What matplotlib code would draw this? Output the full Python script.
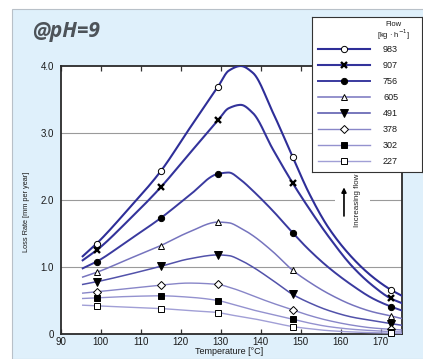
import numpy as np
import matplotlib
matplotlib.use("Agg")
import matplotlib.pyplot as plt
from matplotlib.patches import Rectangle

plt.rcParams['font.family'] = ['Liberation Sans', 'DejaVu Sans']

# flow rates, kg/h
flows = [983, 907, 756, 605, 491, 378, 302, 227]

# temperatures (degC) where each loss-rate curve is sampled
curve_t = [95.5, 99, 107, 115, 122, 129.3, 132, 135, 138, 143, 148, 152, 157, 163, 168, 172.5, 175.3]
# temperatures that carry a symbol
marker_t = [99, 115, 129.3, 148, 172.5]

# loss rate, mm per year
rate_983 = [1.16, 1.35, 1.87, 2.43, 3.05, 3.69, 3.93, 4.00, 3.90, 3.31, 2.64, 2.11, 1.58, 1.13, 0.85, 0.66, 0.57]
rate_907 = [1.10, 1.25, 1.70, 2.19, 2.68, 3.19, 3.37, 3.42, 3.30, 2.76, 2.25, 1.88, 1.45, 1.00, 0.72, 0.53, 0.46]
rate_756 = [0.98, 1.08, 1.40, 1.73, 2.06, 2.39, 2.41, 2.30, 2.14, 1.84, 1.51, 1.26, 0.99, 0.72, 0.53, 0.41, 0.35]
rate_605 = [0.85, 0.92, 1.12, 1.32, 1.52, 1.67, 1.66, 1.58, 1.47, 1.23, 0.95, 0.78, 0.60, 0.43, 0.33, 0.27, 0.23]
rate_491 = [0.74, 0.78, 0.89, 1.01, 1.12, 1.18, 1.17, 1.10, 1.00, 0.80, 0.59, 0.47, 0.35, 0.25, 0.20, 0.155, 0.13]
rate_378 = [0.61, 0.63, 0.68, 0.73, 0.76, 0.74, 0.70, 0.64, 0.57, 0.46, 0.36, 0.28, 0.20, 0.13, 0.09, 0.07, 0.06]
rate_302 = [0.53, 0.54, 0.56, 0.57, 0.55, 0.50, 0.46, 0.41, 0.36, 0.29, 0.22, 0.165, 0.11, 0.07, 0.05, 0.035, 0.03]
rate_227 = [0.43, 0.42, 0.40, 0.38, 0.35, 0.32, 0.29, 0.26, 0.23, 0.17, 0.11, 0.08, 0.05, 0.03, 0.02, 0.015, 0.01]
rates = [rate_983, rate_907, rate_756, rate_605, rate_491, rate_378, rate_302, rate_227]

colors = ['#2e2e98', '#33339b', '#3a3a9f', '#7674be', '#5252aa', '#8886c8', '#9492cf', '#a19fd6']
widths = [1.5, 1.5, 1.4, 1.1, 1.1, 1.0, 1.0, 1.0]
# marker, size, face colour, edge width
styles = [('o', 4.5, 'white', 0.7), ('x', 5, 'black', 1.7), ('o', 4.5, 'black', 0.7),
          ('^', 5, 'white', 0.7), ('v', 5.5, 'black', 0.7), ('D', 3.8, 'white', 0.7),
          ('s', 3.8, 'black', 0.7), ('s', 3.8, 'white', 0.7)]


def pchip(x, y, xs):
    # monotone cubic through the sampled points
    x = np.asarray(x, float)
    y = np.asarray(y, float)
    h = np.diff(x)
    d = np.diff(y) / h
    m = np.zeros_like(y)
    for k in range(1, len(x) - 1):
        if d[k - 1] * d[k] > 0:
            w1 = 2 * h[k] + h[k - 1]
            w2 = h[k] + 2 * h[k - 1]
            m[k] = (w1 + w2) / (w1 / d[k - 1] + w2 / d[k])
    m[0] = d[0]
    m[-1] = d[-1]
    i = np.clip(np.searchsorted(x, xs) - 1, 0, len(h) - 1)
    t = (xs - x[i]) / h[i]
    return ((2 * t**3 - 3 * t**2 + 1) * y[i] + (t**3 - 2 * t**2 + t) * h[i] * m[i]
            + (-2 * t**3 + 3 * t**2) * y[i + 1] + (t**3 - t**2) * h[i] * m[i + 1])


W, H = 423, 359
fig = plt.figure(figsize=(W / 100, H / 100), dpi=100)
fig.patch.set_facecolor('white')
fig.patches.append(Rectangle((12 / W, 0), 1, 1 - 9 / H, transform=fig.transFigure,
                             facecolor='#dff0fb', edgecolor='#b8c0c8', lw=0.8, zorder=-5))

fig.text(32 / W, 1 - 31 / H, '@pH=9', fontsize=15, fontweight='bold', style='italic',
         color='#4d5359', family=['Open Sans', 'DejaVu Sans'], ha='left', va='center')

ax = fig.add_axes([60.7 / W, 1 - 334 / H, (402 - 60.7) / W, (334 - 66) / H])
ax.set_facecolor('white')
ax.set_xlim(90, 175.3)
ax.set_ylim(0, 4.0)

for v in [1, 2, 3]:
    ax.axhline(v, color='#9a9a9a', lw=0.8, zorder=1)

tt = np.linspace(curve_t[0], curve_t[-1], 400)
for flow, r, c, lw, st in zip(flows, rates, colors, widths, styles):
    ax.plot(tt, pchip(curve_t, r, tt), color=c, lw=lw, zorder=3)
    mv = [r[curve_t.index(t)] for t in marker_t]
    mk, ms, fc, mew = st
    ax.plot(marker_t, mv, ls='none', marker=mk, ms=ms, mfc=fc, mec='black', mew=mew, zorder=4,
            clip_on=False)

# arrow with label, on a white patch that breaks the grid line
ax.add_patch(Rectangle((158.6, 1.86), 8.8, 0.28, facecolor='white', edgecolor='none', zorder=2))
ax.annotate('', xy=(160.8, 2.23), xytext=(160.8, 1.72),
            arrowprops=dict(arrowstyle='-|>', color='black', lw=1.2, mutation_scale=7), zorder=5)
ax.text(164.1, 2.0, 'Increasing flow', rotation=90, fontsize=5.8, ha='center', va='center',
        color='#222222', zorder=5)

ax.set_xticks(range(90, 171, 10))
ax.set_yticks([0, 1, 2, 3, 4])
ax.set_yticklabels(['0', '1.0', '2.0', '3.0', '4.0'])
ax.tick_params(axis='x', direction='in', length=3.5, width=0.9, top=True, labelsize=7,
               colors='#333333', labelcolor='#1a1a1a', pad=2)
ax.tick_params(axis='y', length=0, labelsize=7, labelcolor='#1a1a1a', pad=5)
for s in ax.spines.values():
    s.set_color('#2a2a2a')
    s.set_linewidth(1.3)

fig.text(229 / W, 1 - 351 / H, 'Temperature [°C]', fontsize=6.5, ha='center', va='center',
         color='#1a1a1a')
fig.text(27 / W, 1 - 212 / H, 'Loss Rate [mm per year]', fontsize=5.3, rotation=90,
         ha='center', va='center', color='#1a1a1a')

# legend box drawn in pixel units
lg = fig.add_axes([312 / W, 1 - 172 / H, 110 / W, 155 / H])
lg.set_xlim(312, 422)
lg.set_ylim(172, 17)
lg.set_xticks([])
lg.set_yticks([])
lg.set_facecolor('white')
for s in lg.spines.values():
    s.set_color('#333333')
    s.set_linewidth(0.8)
lg.text(393, 24, 'Flow', fontsize=5.5, ha='center', va='center', color='#1a1a1a')
lg.text(393, 35, '[kg · h$^{-1}$]', fontsize=5.5, ha='center', va='center', color='#1a1a1a')
for i, (flow, c, lw, st) in enumerate(zip(flows, colors, widths, styles)):
    y = 49 + 16 * i
    mk, ms, fc, mew = st
    lg.plot([318, 370], [y, y], color=c, lw=lw)
    lg.plot([344], [y], ls='none', marker=mk, ms=ms, mfc=fc, mec='black', mew=mew)
    lg.text(383, y, str(flow), fontsize=6.5, ha='left', va='center', color='#1a1a1a')

fig.savefig('out.png', dpi=100)
